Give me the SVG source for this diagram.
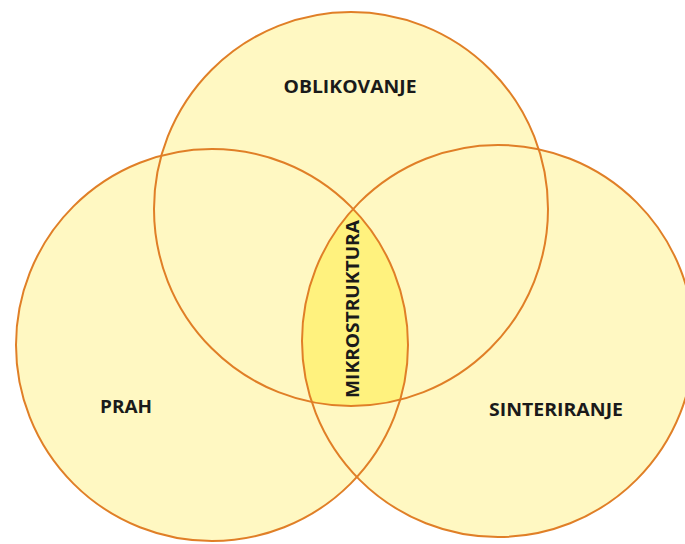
<svg xmlns="http://www.w3.org/2000/svg" width="685" height="544" viewBox="0 0 685 544">
<style>
.c{fill:#FFF8C2;stroke:none}
.s{fill:none;stroke:#E07F27;stroke-width:2}
.t{font-family:"Open Sans","Liberation Sans",sans-serif;font-weight:bold;font-size:17px;fill:#1a1a1a}
</style>
<defs>
<clipPath id="cl"><circle cx="212" cy="345" r="196"/></clipPath>
<clipPath id="cr"><circle cx="498" cy="341" r="196"/></clipPath>
</defs>
<rect width="685" height="544" fill="#fff"/>
<g id="fills">
<circle class="c" cx="351" cy="209" r="197"/>
<circle class="c" cx="212" cy="345" r="196"/>
<circle class="c" cx="498" cy="341" r="196"/>
<g clip-path="url(#cl)"><g clip-path="url(#cr)"><circle cx="351" cy="209" r="197" fill="#FFF27E"/></g></g>
</g>
<g id="oblikovanje"><circle class="s" cx="351" cy="209" r="197"/><text class="t" x="350" y="93" text-anchor="middle" textLength="133" lengthAdjust="spacingAndGlyphs">OBLIKOVANJE</text></g>
<g id="prah"><circle class="s" cx="212" cy="345" r="196"/><text class="t" x="126" y="413" text-anchor="middle" textLength="52" lengthAdjust="spacingAndGlyphs">PRAH</text></g>
<g id="sinteriranje"><circle class="s" cx="498" cy="341" r="196"/><text class="t" x="556" y="416" text-anchor="middle" textLength="134" lengthAdjust="spacingAndGlyphs">SINTERIRANJE</text></g>
<g id="mikrostruktura"><text class="t" transform="translate(359,309) rotate(-90)" x="0" y="0" text-anchor="middle" textLength="178" lengthAdjust="spacingAndGlyphs">MIKROSTRUKTURA</text></g>
</svg>
